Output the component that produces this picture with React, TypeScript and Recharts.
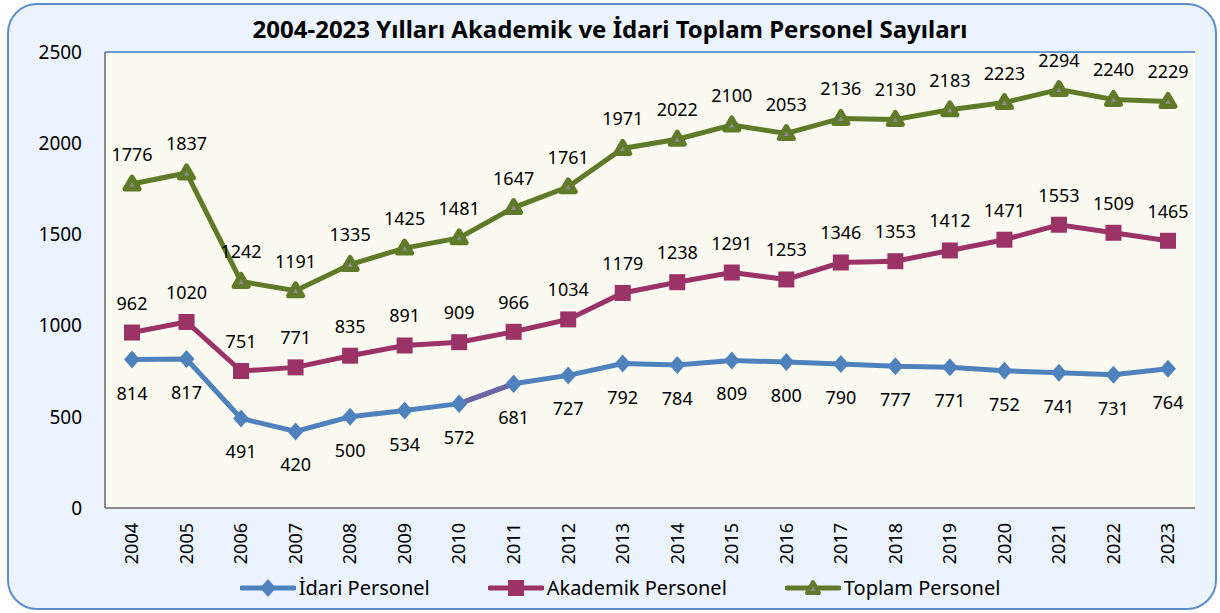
import React from "react";
import {
  LineChart,
  Line,
  XAxis,
  YAxis,
  CartesianGrid,
  Legend,
  LabelList,
  ReferenceLine,
} from "recharts";

const years = [
  "2004", "2005", "2006", "2007", "2008", "2009", "2010", "2011", "2012", "2013",
  "2014", "2015", "2016", "2017", "2018", "2019", "2020", "2021", "2022", "2023",
];
const idari = [814, 817, 491, 420, 500, 534, 572, 681, 727, 792, 784, 809, 800, 790, 777, 771, 752, 741, 731, 764];
const akademik = [962, 1020, 751, 771, 835, 891, 909, 966, 1034, 1179, 1238, 1291, 1253, 1346, 1353, 1412, 1471, 1553, 1509, 1465];
const toplam = [1776, 1837, 1242, 1191, 1335, 1425, 1481, 1647, 1761, 1971, 2022, 2100, 2053, 2136, 2130, 2183, 2223, 2294, 2240, 2229];
const yTicks = [0, 500, 1000, 1500, 2000, 2500];

// the 2010-2011 piece of the İdari line is drawn in a purple tone in the original
const segYears = ["2010", "2011"];

const data = years.map((year, i) => ({
  year,
  idari: idari[i],
  akademik: akademik[i],
  toplam: toplam[i],
  idariSeg: segYears.includes(year) ? idari[i] : null,
}));

const BLUE = "#4F81BD";
const MAROON = "#9B3366";
const GREEN = "#5F7A28";
const FONT = "'Noto Sans', sans-serif";

const Diamond = (props: any) => {
  const { cx, cy, key } = props;
  if (cx == null || cy == null) return <g key={key} />;
  return (
    <polygon
      key={key}
      points={`${cx},${cy - 9} ${cx + 8},${cy} ${cx},${cy + 9} ${cx - 8},${cy}`}
      fill={BLUE}
    />
  );
};

const Square = (props: any) => {
  const { cx, cy, key } = props;
  if (cx == null || cy == null) return <g key={key} />;
  return <rect key={key} x={cx - 8} y={cy - 8} width={16} height={16} fill={MAROON} />;
};

const Triangle = (props: any) => {
  const { cx, cy, key } = props;
  if (cx == null || cy == null) return <g key={key} />;
  return (
    <polygon
      key={key}
      points={`${cx},${cy - 7} ${cx + 7},${cy + 5} ${cx - 7},${cy + 5}`}
      fill="#8C8C8C"
      stroke={GREEN}
      strokeWidth={5}
      strokeLinejoin="round"
    />
  );
};

const labelAbove = (props: any) => {
  const { x, y, value } = props;
  return (
    <text x={x} y={y - 23} textAnchor="middle" fontSize={18} fontFamily={FONT} fill="#000">
      {value}
    </text>
  );
};

const labelBelow = (props: any) => {
  const { x, y, value } = props;
  return (
    <text x={x} y={y + 40} textAnchor="middle" fontSize={18} fontFamily={FONT} fill="#000">
      {value}
    </text>
  );
};

const YearTick = (props: any) => {
  const { x, y, payload } = props;
  return (
    <text
      x={x}
      y={y + 7}
      dy="0.35em"
      transform={`rotate(-90, ${x}, ${y + 7})`}
      textAnchor="end"
      fontSize={18}
      fontFamily={FONT}
      fill="#000"
    >
      {payload.value}
    </text>
  );
};

const legendItems = [
  { name: "İdari Personel", color: BLUE, shape: "diamond" },
  { name: "Akademik Personel", color: MAROON, shape: "square" },
  { name: "Toplam Personel", color: GREEN, shape: "triangle" },
];

const LegendContent = () => (
  <div style={{ display: "flex", justifyContent: "center", alignItems: "center", gap: 58 }}>
    {legendItems.map((it) => (
      <div key={it.name} style={{ display: "flex", alignItems: "center" }}>
        <svg width={56} height={22}>
          <line x1={2} y1={11} x2={54} y2={11} stroke={it.color} strokeWidth={5} strokeLinecap="round" />
          {it.shape === "diamond" && <polygon points="28,2 36,11 28,20 20,11" fill={it.color} />}
          {it.shape === "square" && <rect x={20} y={3} width={16} height={16} fill={it.color} />}
          {it.shape === "triangle" && (
            <polygon points="28,5 34,16 22,16" fill="#8C8C8C" stroke={it.color} strokeWidth={4} strokeLinejoin="round" />
          )}
        </svg>
        <span style={{ fontFamily: FONT, fontSize: 20, color: "#000", marginLeft: 3 }}>{it.name}</span>
      </div>
    ))}
  </div>
);

export default function App() {
  return (
    <div style={{ position: "absolute", left: 0, top: 0, width: 1220, height: 613 }}>
      <div
        style={{
          position: "absolute",
          left: 7,
          top: 3,
          width: 1206,
          height: 603,
          border: "2px solid #5E8DCB",
          borderRadius: 30,
          background: "#EAF3FE",
        }}
      />
      <div
        style={{
          position: "absolute",
          left: 0,
          top: 12,
          width: 1220,
          textAlign: "center",
          fontFamily: FONT,
          fontWeight: 700,
          fontSize: 24,
          color: "#000",
        }}
      >
        2004-2023 Yılları Akademik ve İdari Toplam Personel Sayıları
      </div>
      <div style={{ position: "absolute", left: 0, top: 0 }}>
        <LineChart width={1220} height={613} data={data} margin={{ top: 52, right: 25, left: 45, bottom: 11 }}>
          <CartesianGrid horizontal={false} vertical={false} fill="#FBFAF0" />
          <XAxis
            dataKey="year"
            interval={0}
            padding={{ left: 27, right: 27 }}
            tickLine={false}
            axisLine={{ stroke: "#8A8A8A", strokeWidth: 2 }}
            tick={<YearTick />}
            height={66}
          />
          <YAxis
            domain={[0, 2500]}
            ticks={yTicks}
            width={60}
            tickLine={false}
            tickMargin={17}
            axisLine={{ stroke: "#8A8A8A", strokeWidth: 2 }}
            tick={{ fontSize: 19, fontFamily: FONT, fill: "#000" }}
          />
          <YAxis
            yAxisId="right"
            orientation="right"
            width={0}
            tick={false}
            tickLine={false}
            axisLine={{ stroke: "#6E9AD2", strokeWidth: 2 }}
          />
          <ReferenceLine y={2500} stroke="#6E9AD2" strokeWidth={2} />
          <Legend verticalAlign="bottom" height={28} content={<LegendContent />} />
          <Line
            dataKey="idari"
            stroke={BLUE}
            strokeWidth={5}
            dot={Diamond}
            activeDot={false}
            isAnimationActive={false}
          >
            <LabelList dataKey="idari" content={labelBelow} />
          </Line>
          <Line
            dataKey="idariSeg"
            stroke="#6E66A6"
            strokeWidth={5}
            dot={Diamond}
            activeDot={false}
            connectNulls={false}
            legendType="none"
            isAnimationActive={false}
          />
          <Line
            dataKey="akademik"
            stroke={MAROON}
            strokeWidth={5}
            dot={Square}
            activeDot={false}
            isAnimationActive={false}
          >
            <LabelList dataKey="akademik" content={labelAbove} />
          </Line>
          <Line
            dataKey="toplam"
            stroke={GREEN}
            strokeWidth={5}
            dot={Triangle}
            activeDot={false}
            isAnimationActive={false}
          >
            <LabelList dataKey="toplam" content={labelAbove} />
          </Line>
        </LineChart>
      </div>
    </div>
  );
}
